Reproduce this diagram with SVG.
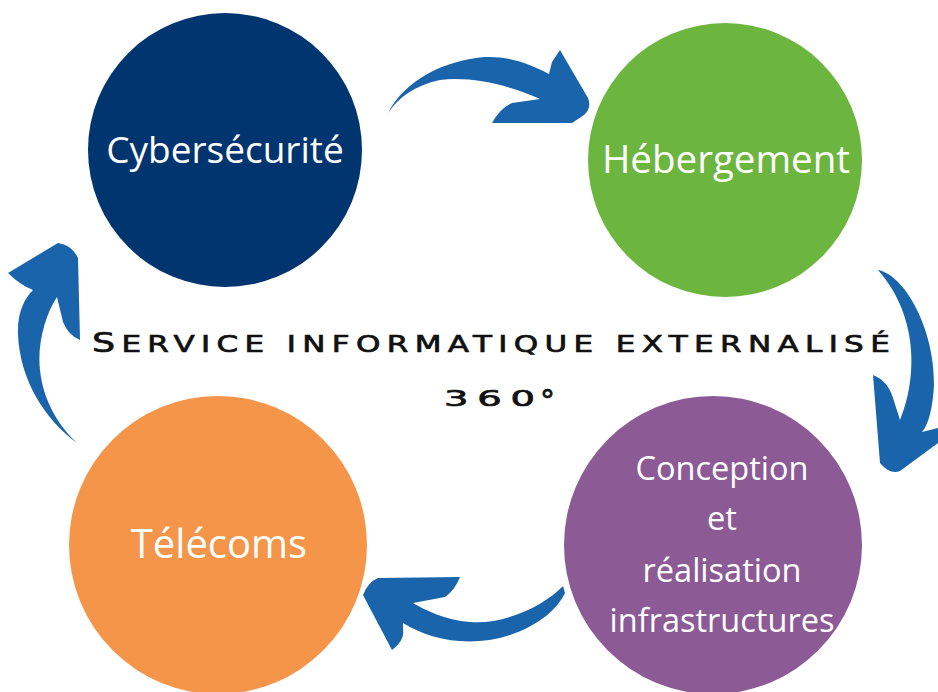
<svg xmlns="http://www.w3.org/2000/svg" width="938" height="692" viewBox="0 0 938 692">
<style>
.lbl{fill:#fff;font-family:"Open Sans","Lato",sans-serif;text-anchor:middle}
.arrow{fill:#1a64ac}
.title{fill:#111;stroke:#111;stroke-width:0.7;font-family:"DejaVu Sans","Liberation Sans",sans-serif}
</style>
<rect width="938" height="692" fill="#fff"/>
<g id="connectors">
<path class="arrow" d="M388,113 C405,80 445,60 485,57 C510,56 530,64 549,74 L552,62 L560,50 L588,98 Q592,108 584,115 L572,123 L492,123 Q500,108 512,103 L540,99 C510,85 470,76 440,80 C415,85 398,98 388,113 Z"/>
<path class="arrow" d="M878,270 C905,275 935,330 934,385 Q932,420 922,432 L938,428 L938,443 L900,471 Q890,475 880,463 L873,375 Q888,381 893,398 L900,420 C915,385 922,320 878,270 Z"/>
<path class="arrow" d="M563,586 C545,605 505,625 470,622 C445,620 425,610 413,603 L445,597 Q455,590 460,577 L378,578 Q368,582 363,595 L392,650 Q405,640 403,630 L403,623 C430,640 470,648 510,635 C540,625 558,608 565,593 Z"/>
<path class="arrow" d="M77,443 C45,420 20,380 18,335 C17,312 25,298 33,290 Q20,285 8,273 L58,243 Q72,245 78,258 L80,340 Q68,335 63,322 L57,297 C45,315 37,345 40,370 C43,400 58,425 77,443 Z"/>
</g>
<g id="cyber">
<circle cx="225" cy="150" r="137" fill="#003570"/>
<text class="lbl" x="225" y="163" font-size="37">Cybersécurité</text>
</g>
<g id="hebergement">
<circle cx="725" cy="160" r="137" fill="#6cb63f"/>
<text class="lbl" x="726" y="173" font-size="38.5">Hébergement</text>
</g>
<g id="conception">
<circle cx="713" cy="545" r="149" fill="#8c5b96"/>
<text class="lbl" x="722" y="480" font-size="32.5">Conception</text>
<text class="lbl" x="722" y="530" font-size="32.5">et</text>
<text class="lbl" x="722" y="582" font-size="32.5">réalisation</text>
<text class="lbl" x="722" y="632" font-size="32.5">infrastructures</text>
</g>
<g id="telecoms">
<circle cx="218" cy="545" r="149" fill="#f5954a"/>
<text class="lbl" x="219" y="558" font-size="40">Télécoms</text>
</g>
<g id="title">
<text class="title" transform="scale(1.35,1)" x="68.1" y="352" textLength="591" lengthAdjust="spacing"><tspan font-size="27">S</tspan><tspan font-size="23">ERVICE INFORMATIQUE EXTERNALISÉ</tspan></text>
<text class="title" transform="scale(1.75,1)" x="253.7" y="406" font-size="22" textLength="52" lengthAdjust="spacing">360</text>
<text class="title" x="540" y="411" font-size="30" stroke-width="0.3">°</text>
</g>
</svg>
